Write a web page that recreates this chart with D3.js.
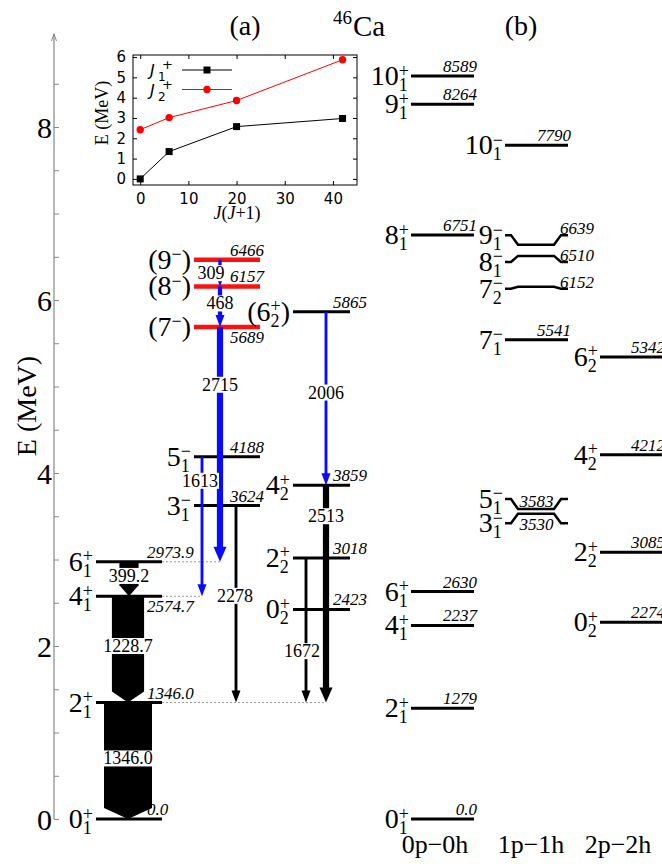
<!DOCTYPE html>
<html>
<head>
<meta charset="utf-8">
<script src="https://cdn.jsdelivr.net/npm/d3@7"></script>
<style>
body { margin: 0; background: #fff; }
</style>
</head>
<body>
<div id="chart"></div>
<script>
// ---------- data ----------
// (a) experimental levels of 46Ca (keV); tent = new (red) levels
const expLevels = [
  {col: 'gsb', j: '0', sub: '1', sup: '+', e: 0.0, txt: '0.0'},
  {col: 'gsb', j: '2', sub: '1', sup: '+', e: 1346.0, txt: '1346.0'},
  {col: 'gsb', j: '4', sub: '1', sup: '+', e: 2574.7, txt: '2574.7'},
  {col: 'gsb', j: '6', sub: '1', sup: '+', e: 2973.9, txt: '2973.9'},
  {col: 'neg', j: '3', sub: '1', sup: '\u2212', e: 3624, txt: '3624'},
  {col: 'neg', j: '5', sub: '1', sup: '\u2212', e: 4188, txt: '4188'},
  {col: 'neg', j: '(7', sup: '\u2212', post: ')', e: 5689, txt: '5689', tent: true},
  {col: 'neg', j: '(8', sup: '\u2212', post: ')', e: 6157, txt: '6157', tent: true},
  {col: 'neg', j: '(9', sup: '\u2212', post: ')', e: 6466, txt: '6466', tent: true},
  {col: 'band2', j: '0', sub: '2', sup: '+', e: 2423, txt: '2423'},
  {col: 'band2', j: '2', sub: '2', sup: '+', e: 3018, txt: '3018'},
  {col: 'band2', j: '4', sub: '2', sup: '+', e: 3859, txt: '3859'},
  {col: 'band2', j: '(6', sub: '2', sup: '+', post: ')', e: 5865, txt: '5865'}
];

// gamma transitions (keV); inten = relative intensity, isNew = blue
const gammas = [
  {txt: '1346.0', from: 1346.0, to: 0.0, inten: 100},
  {txt: '1228.7', from: 2574.7, to: 1346.0, inten: 67},
  {txt: '399.2', from: 2973.9, to: 2574.7, inten: 40},
  {txt: '309', from: 6466, to: 6157, inten: 7, isNew: true},
  {txt: '468', from: 6157, to: 5689, inten: 9, isNew: true},
  {txt: '2715', from: 5689, to: 2973.9, inten: 13, isNew: true},
  {txt: '1613', from: 4188, to: 2574.7, inten: 6, isNew: true},
  {txt: '2278', from: 3624, to: 1346.0, inten: 6},
  {txt: '2006', from: 5865, to: 3859, inten: 6, isNew: true},
  {txt: '2513', from: 3859, to: 1346.0, inten: 13},
  {txt: '1672', from: 3018, to: 1346.0, inten: 6}
];

// (b) shell-model levels (keV) by configuration
const smCols = ['0p\u22120h', '1p\u22121h', '2p\u22122h'];
const smLevels = [
  {col: '0p\u22120h', j: '0', sub: '1', sup: '+', e: 0.0, txt: '0.0'},
  {col: '0p\u22120h', j: '2', sub: '1', sup: '+', e: 1279, txt: '1279'},
  {col: '0p\u22120h', j: '4', sub: '1', sup: '+', e: 2237, txt: '2237'},
  {col: '0p\u22120h', j: '6', sub: '1', sup: '+', e: 2630, txt: '2630'},
  {col: '0p\u22120h', j: '8', sub: '1', sup: '+', e: 6751, txt: '6751'},
  {col: '0p\u22120h', j: '9', sub: '1', sup: '+', e: 8264, txt: '8264'},
  {col: '0p\u22120h', j: '10', sub: '1', sup: '+', e: 8589, txt: '8589'},
  {col: '1p\u22121h', j: '3', sub: '1', sup: '\u2212', e: 3530, txt: '3530'},
  {col: '1p\u22121h', j: '5', sub: '1', sup: '\u2212', e: 3583, txt: '3583'},
  {col: '1p\u22121h', j: '7', sub: '1', sup: '\u2212', e: 5541, txt: '5541'},
  {col: '1p\u22121h', j: '7', sub: '2', sup: '\u2212', e: 6152, txt: '6152'},
  {col: '1p\u22121h', j: '8', sub: '1', sup: '\u2212', e: 6510, txt: '6510'},
  {col: '1p\u22121h', j: '9', sub: '1', sup: '\u2212', e: 6639, txt: '6639'},
  {col: '1p\u22121h', j: '10', sub: '1', sup: '\u2212', e: 7790, txt: '7790'},
  {col: '2p\u22122h', j: '0', sub: '2', sup: '+', e: 2274, txt: '2274'},
  {col: '2p\u22122h', j: '2', sub: '2', sup: '+', e: 3085, txt: '3085'},
  {col: '2p\u22122h', j: '4', sub: '2', sup: '+', e: 4212, txt: '4212'},
  {col: '2p\u22122h', j: '6', sub: '2', sup: '+', e: 5342, txt: '5342'}
];

// inset: E vs J(J+1)
const jj = [0, 6, 20, 42];
const band1E = [0.0, 1.346, 2.5747, 2.9739];
const band2E = [2.423, 3.018, 3.859, 5.865];

// ---------- layout ----------
const W = 662, H = 864;
const serif = '"Liberation Serif", "Times New Roman", "DejaVu Serif", serif';
const sans = '"DejaVu Sans", sans-serif';
const y = d3.scaleLinear().domain([0, 8]).range([819, 127]);   // MeV -> px
const colX = d3.scaleOrdinal()
  .domain(['gsb', 'neg', 'band2'].concat(smCols))
  .range([[96, 162], [194, 260], [293, 350], [411, 474], [505, 568], [600, 662]]);

// x lanes of transitions, and the energy (MeV) where their label sits
const lane = {'1346.0': 128, '1228.7': 128, '399.2': 129, '309': 220, '468': 220, '2715': 220,
  '1613': 202, '2278': 236, '2006': 326, '2513': 326, '1672': 306};
const gLabelE = {'1346.0': 0.70, '1228.7': 2.0, '399.2': 2.81, '309': 6.31, '468': 5.96, '2715': 5.02,
  '1613': 3.91, '2278': 2.58, '2006': 4.93, '2513': 3.50, '1672': 1.94};
const gLabelDx = {'309': -9, '1613': -2, '1672': -4, '2278': -1};

// shell-model levels drawn with label stubs displaced (MeV of the stubs)
const stubE = {'9\u2212': 6.75, '8\u2212': 6.44, '72\u2212': 6.13, '5\u2212': 3.70, '3\u2212': 3.42};

const svg = d3.select('#chart').append('svg')
  .attr('width', W).attr('height', H)
  .style('background', '#fff')
  .style('font-family', serif);

// spin-parity label J^pi_n right-aligned at xr, centred on level y
function spinLabel(d, xr, yy, size) {
  const g = svg.append('g');
  const small = Math.round(size * 0.66);
  const main = g.append('text').attr('x', 0).attr('y', yy + 9)
    .style('font-size', size + 'px').text(d.j);
  const w1 = main.node().getComputedTextLength();
  let w2 = 0;
  if (d.sup) {
    const t = g.append('text').attr('x', w1).attr('y', yy + 0.5)
      .style('font-size', small + 'px').text(d.sup);
    w2 = Math.max(w2, t.node().getComputedTextLength());
  }
  if (d.sub) {
    const t = g.append('text').attr('x', w1).attr('y', yy + 15)
      .style('font-size', small + 'px').text(d.sub);
    w2 = Math.max(w2, t.node().getComputedTextLength());
  }
  let w = w1 + w2;
  if (d.post) {
    const t = g.append('text').attr('x', w).attr('y', yy + 9)
      .style('font-size', size + 'px').text(d.post);
    w += t.node().getComputedTextLength();
  }
  g.attr('transform', 'translate(' + (xr - w) + ',0)');
}

function energyText(x, yy, anchor, txt) {
  svg.append('text').attr('x', x).attr('y', yy)
    .attr('text-anchor', anchor)
    .style('font-size', '17px').style('font-style', 'italic')
    .text(txt);
}

// ---------- main axis ----------
const axisColor = '#888';
svg.append('line')
  .attr('x1', 54).attr('x2', 54)
  .attr('y1', y(0)).attr('y2', y(9.08))
  .attr('stroke', axisColor).attr('stroke-width', 1.2);
svg.append('path')
  .attr('d', 'M51.5,41 L54,34 L56.5,41')
  .attr('fill', 'none').attr('stroke', axisColor).attr('stroke-width', 1);

const minorAxis = svg.append('g').attr('transform', 'translate(54,0)')
  .call(d3.axisLeft(y).tickValues(d3.range(0, 9, 0.5)).tickSizeInner(-5).tickSizeOuter(0).tickFormat(''));
minorAxis.select('.domain').remove();
minorAxis.selectAll('line').attr('stroke', axisColor);

const majorAxis = svg.append('g').attr('transform', 'translate(54,0)')
  .call(d3.axisLeft(y).tickValues([0, 2, 4, 6, 8]).tickSizeInner(-5).tickSizeOuter(0).tickPadding(2));
majorAxis.select('.domain').remove();
majorAxis.selectAll('line').attr('stroke', axisColor);
majorAxis.selectAll('text')
  .attr('fill', '#000')
  .style('font-family', serif)
  .style('font-size', '30px')
  .attr('dy', '0.34em');

svg.append('text')
  .attr('transform', 'translate(36,406) rotate(-90)')
  .attr('text-anchor', 'middle')
  .style('font-size', '28px')
  .text('E (MeV)');

// titles
svg.append('text').attr('x', 245).attr('y', 35).attr('text-anchor', 'middle')
  .style('font-size', '28px').text('(a)');
svg.append('text').attr('x', 521).attr('y', 35).attr('text-anchor', 'middle')
  .style('font-size', '28px').text('(b)');
svg.append('text').attr('x', 333).attr('y', 24).style('font-size', '19px').text('46');
svg.append('text').attr('x', 353).attr('y', 36).style('font-size', '29px').text('Ca');

// ---------- (a) levels ----------
const belowText = ['2574.7', '5689'];
const eStyle = {gsb: {anchor: 'start', dx: -15}, neg: {anchor: 'end', dx: 4}, band2: {anchor: 'start', dx: -17}};

// dotted guide lines from ground band to arriving transitions
expLevels.filter(d => d.col === 'gsb').forEach(d => {
  const x2 = colX(d.col)[1];
  const lanes = gammas.filter(g => g.to === d.e && lane[g.txt] > x2).map(g => lane[g.txt]);
  if (lanes.length) {
    svg.append('line')
      .attr('x1', x2).attr('x2', d3.max(lanes))
      .attr('y1', y(d.e / 1000)).attr('y2', y(d.e / 1000))
      .attr('stroke', '#999').attr('stroke-width', 1)
      .attr('stroke-dasharray', '2,2');
  }
});

expLevels.forEach(d => {
  const [x1, x2] = colX(d.col);
  const yy = y(d.e / 1000);
  svg.append('line')
    .attr('x1', x1).attr('x2', x2).attr('y1', yy).attr('y2', yy)
    .attr('stroke', d.tent ? '#ff1010' : '#000')
    .attr('stroke-width', d.tent ? 4.5 : 3);
  spinLabel(d, x1 - 3, yy, 28);
  const s = eStyle[d.col];
  const below = belowText.includes(d.txt);
  energyText(x2 + s.dx, below ? yy + 16 : yy - 4, s.anchor, d.txt);
});

// ---------- transitions ----------
const widthScale = d3.scaleLinear().domain([0, 100]).range([0, 48]);

gammas.forEach(g => {
  const cx = lane[g.txt];
  const y0 = y(g.from / 1000), y1 = y(g.to / 1000);
  const w = widthScale(g.inten);
  const color = g.isNew ? '#0a0aff' : '#000';
  if (w > 12) {
    const h = 11;
    svg.append('polygon')
      .attr('points', [[cx - w / 2, y0], [cx + w / 2, y0], [cx + w / 2, y1 - h], [cx, y1], [cx - w / 2, y1 - h]]
        .map(p => p.join(',')).join(' '))
      .attr('fill', color);
  } else {
    const hl = w > 5 ? 15 : 12, hw = w > 5 ? 13 : 9;
    svg.append('line')
      .attr('x1', cx).attr('x2', cx)
      .attr('y1', y0).attr('y2', y1 - hl + 1)
      .attr('stroke', color).attr('stroke-width', w);
    svg.append('polygon')
      .attr('points', [[cx - hw / 2, y1 - hl], [cx + hw / 2, y1 - hl], [cx, y1]].map(p => p.join(',')).join(' '))
      .attr('fill', color);
  }
});

// transition labels on white boxes
gammas.forEach(g => {
  const lx = lane[g.txt] + (gLabelDx[g.txt] || 0);
  const ly = y(gLabelE[g.txt]);
  const t = svg.append('text')
    .attr('x', lx).attr('y', ly + 6)
    .attr('text-anchor', 'middle')
    .style('font-size', '18px')
    .text(g.txt);
  const bb = t.node().getBBox();
  svg.insert('rect', () => t.node())
    .attr('x', bb.x - 1).attr('y', ly - 8)
    .attr('width', bb.width + 2).attr('height', 16)
    .attr('fill', '#fff');
});

// ---------- (b) shell-model levels ----------
smLevels.forEach(d => {
  const [x1, x2] = colX(d.col);
  const yy = y(d.e / 1000);
  const key = (d.sub === '2' ? '7' + d.sub : d.j) + d.sup;
  const sE = d.col === smCols[1] ? stubE[key] : undefined;
  if (sE !== undefined) {
    const ys = y(sE);
    const pts = [[x1, ys], [x1 + 6, ys], [x1 + 13, yy], [x2 - 14, yy], [x2 - 7, ys], [x2, ys]];
    svg.append('path')
      .attr('d', d3.line()(pts))
      .attr('fill', 'none').attr('stroke', '#000').attr('stroke-width', 2.5);
    spinLabel(d, x1 - 2, ys, 28);
    if (d.j === '5') energyText((x1 + x2) / 2, yy - 2, 'middle', d.txt);
    else if (d.j === '3') energyText((x1 + x2) / 2, yy + 16, 'middle', d.txt);
    else energyText(x2 - 8, ys - 1, 'start', d.txt);
  } else {
    svg.append('line')
      .attr('x1', x1).attr('x2', x2).attr('y1', yy).attr('y2', yy)
      .attr('stroke', '#000').attr('stroke-width', 3);
    spinLabel(d, x1 - 2, yy, 28);
    energyText(x2 + 3, yy - 4, 'end', d.txt);
  }
});

// configuration labels
smCols.forEach((c, i) => {
  svg.append('text')
    .attr('x', [435, 531, 618][i]).attr('y', 853)
    .attr('text-anchor', 'middle')
    .style('font-size', '26px')
    .text(c);
});

// ---------- inset ----------
const ix = d3.scaleLinear().domain([-1.5, 45]).range([133, 357]);
const iy = d3.scaleLinear().domain([-0.3, 6.1]).range([185, 55]);
const inset = svg.append('g');
inset.append('rect')
  .attr('x', 133).attr('y', 55).attr('width', 224).attr('height', 130)
  .attr('fill', '#fff').attr('stroke', '#000').attr('stroke-width', 1);

const fmt = d3.format('d');
const xAx = inset.append('g').attr('transform', 'translate(0,185)')
  .call(d3.axisBottom(ix).tickValues([0, 10, 20, 30, 40]).tickFormat(fmt).tickSizeInner(-4).tickSizeOuter(0).tickPadding(8));
const xAxTop = inset.append('g').attr('transform', 'translate(0,55)')
  .call(d3.axisTop(ix).tickValues([0, 10, 20, 30, 40]).tickSizeInner(-4).tickSizeOuter(0).tickFormat(''));
const yAx = inset.append('g').attr('transform', 'translate(133,0)')
  .call(d3.axisLeft(iy).tickValues([0, 1, 2, 3, 4, 5, 6]).tickFormat(fmt).tickSizeInner(-4).tickSizeOuter(0).tickPadding(7));
const yAxR = inset.append('g').attr('transform', 'translate(357,0)')
  .call(d3.axisRight(iy).tickValues([0, 1, 2, 3, 4, 5, 6]).tickSizeInner(-4).tickSizeOuter(0).tickFormat(''));
[xAx, xAxTop, yAx, yAxR].forEach(a => {
  a.select('.domain').remove();
  a.selectAll('line').attr('stroke', '#000');
  a.selectAll('text').attr('fill', '#000')
    .style('font-family', sans).style('font-size', '15px');
});

inset.append('text')
  .attr('transform', 'translate(108,113) rotate(-90)')
  .attr('text-anchor', 'middle')
  .style('font-size', '18px')
  .text('E (MeV)');

const xl = inset.append('text').attr('x', 237).attr('y', 219)
  .attr('text-anchor', 'middle').style('font-size', '18px');
xl.append('tspan').style('font-style', 'italic').text('J');
xl.append('tspan').text('(');
xl.append('tspan').style('font-style', 'italic').text('J');
xl.append('tspan').text('+1)');

const series = [
  {vals: band1E, color: '#000', sub: '1', sym: 'square'},
  {vals: band2E, color: '#ff0000', sub: '2', sym: 'circle'}
];
const lineGen = d3.line().x((v, i) => ix(jj[i])).y(v => iy(v));

series.forEach((s, k) => {
  inset.append('path')
    .attr('d', lineGen(s.vals))
    .attr('fill', 'none').attr('stroke', s.color).attr('stroke-width', 1);
  const pts = inset.selectAll(null).data(s.vals).enter();
  if (s.sym === 'square') {
    pts.append('rect')
      .attr('x', (v, i) => ix(jj[i]) - 3.5).attr('y', v => iy(v) - 3.5)
      .attr('width', 7).attr('height', 7).attr('fill', s.color);
  } else {
    pts.append('circle')
      .attr('cx', (v, i) => ix(jj[i])).attr('cy', v => iy(v))
      .attr('r', 3.7).attr('fill', s.color);
  }
  // legend entry
  const ly = 70 + k * 19.5;
  inset.append('text').attr('x', 150).attr('y', ly + 6)
    .style('font-family', sans).style('font-style', 'italic').style('font-size', '16px').text('J');
  inset.append('text').attr('x', 158).attr('y', ly + 11)
    .style('font-family', sans).style('font-size', '12px').text(s.sub);
  inset.append('text').attr('x', 162).attr('y', ly - 1)
    .style('font-family', sans).style('font-size', '13px').text('+');
  inset.append('line')
    .attr('x1', 182).attr('x2', 232).attr('y1', ly).attr('y2', ly)
    .attr('stroke', s.color).attr('stroke-width', 1);
  if (s.sym === 'square') {
    inset.append('rect').attr('x', 203.5).attr('y', ly - 3.5)
      .attr('width', 7).attr('height', 7).attr('fill', s.color);
  } else {
    inset.append('circle').attr('cx', 207).attr('cy', ly).attr('r', 3.7).attr('fill', s.color);
  }
});
</script>
</body>
</html>
